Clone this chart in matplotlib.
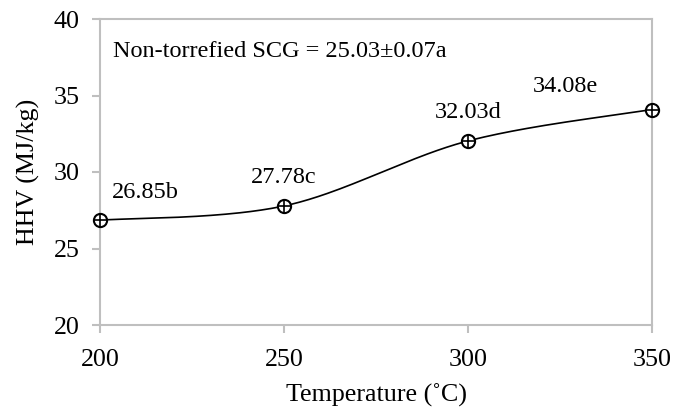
import numpy as np
import matplotlib.pyplot as plt

plt.rcParams['font.family'] = ['Liberation Serif', 'DejaVu Serif']

# data
temperature = [200, 250, 300, 350]
hhv = [26.85, 27.78, 32.03, 34.08]
labels = ["26.85b", "27.78c", "32.03d", "34.08e"]
label_offsets = [(45, 22), (0, 23), (0, 23), (-87, 18)]  # pixels, baseline from point
note = "Non-torrefied SCG = 25.03\u00b10.07a"

xlim = (200, 350)
ylim = (20, 40)
aspect = 306 / 552  # axes height / width in pixels


def excel_smooth(x, y, n=60):
    # Excel-like smoothed line: bezier with catmull-rom control points,
    # worked out in axes space so the curve shape follows the screen
    xs = (np.asarray(x, float) - xlim[0]) / (xlim[1] - xlim[0])
    ys = (np.asarray(y, float) - ylim[0]) / (ylim[1] - ylim[0]) * aspect
    P = np.column_stack([xs, ys])
    P = np.vstack([P[0], P, P[-1]])
    t = np.linspace(0, 1, n)[:, None]
    out = []
    for i in range(1, len(P) - 2):
        p0, p1 = P[i], P[i + 1]
        c1 = p0 + (P[i + 1] - P[i - 1]) / 6
        c2 = p1 - (P[i + 2] - P[i]) / 6
        out.append((1 - t) ** 3 * p0 + 3 * (1 - t) ** 2 * t * c1
                   + 3 * (1 - t) * t ** 2 * c2 + t ** 3 * p1)
    out = np.vstack(out)
    sx = out[:, 0] * (xlim[1] - xlim[0]) + xlim[0]
    sy = out[:, 1] / aspect * (ylim[1] - ylim[0]) + ylim[0]
    return sx, sy


fig = plt.figure(figsize=(6.73, 4.08), dpi=100)
ax = fig.add_axes([100 / 673, 1 - 325 / 408, 552 / 673, 306 / 408])

sx, sy = excel_smooth(temperature, hhv)
ax.plot(sx, sy, color='black', lw=1.2, zorder=2)
ax.plot(temperature, hhv, linestyle='none', marker='o', ms=9.5, mfc='white',
        mec='black', mew=1.5, zorder=3, clip_on=False)
ax.plot(temperature, hhv, linestyle='none', marker='+', ms=9.5,
        mec='black', mew=1.2, zorder=4, clip_on=False)

for xv, yv, lab, off in zip(temperature, hhv, labels, label_offsets):
    ax.annotate(lab, (xv, yv), xytext=off, textcoords='offset pixels',
                ha='center', va='baseline', fontsize=17.5)

ax.text(13 / 552, (325 - 56.7) / 306, note, transform=ax.transAxes,
        fontsize=17.5, ha='left', va='baseline')

ax.set_xlim(*xlim)
ax.set_ylim(*ylim)
ax.set_xticks([200, 250, 300, 350])
ax.set_yticks([20, 25, 30, 35, 40])

for s in ax.spines.values():
    s.set_color('#BFBFBF')
    s.set_linewidth(1.5)
ax.tick_params(colors='#BFBFBF', length=5.5, width=1.5, labelcolor='black',
               labelsize=18.7)
ax.tick_params(axis='y', pad=9)
ax.tick_params(axis='x', pad=12)
ax.set_xlabel("Temperature (\u02daC)", fontsize=18.7, labelpad=9)
ax.set_ylabel("HHV (MJ/kg)", fontsize=18.7, labelpad=10)

fig.savefig("out.png", dpi=100)
